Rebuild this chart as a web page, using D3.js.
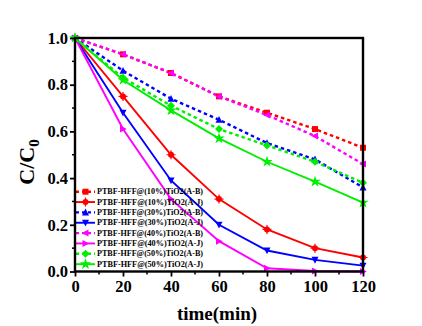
<!DOCTYPE html>
<html><head><meta charset="utf-8">
<script src="https://cdn.jsdelivr.net/npm/d3@7"></script>
<style>body{margin:0;background:#fff}svg{display:block}</style>
</head><body>
<svg id="c" width="422" height="326"></svg>
<script>
const times = [0, 20, 40, 60, 80, 100, 120];
const labels = [
  "PTBF-HFF@(10%)TiO2(A-B)", "PTBF-HFF@(10%)TiO2(A-J)",
  "PTBF-HFF@(30%)TiO2(A-B)", "PTBF-HFF@(30%)TiO2(A-J)",
  "PTBF-HFF@(40%)TiO2(A-B)", "PTBF-HFF@(40%)TiO2(A-J)",
  "PTBF-HFF@(50%)TiO2(A-B)", "PTBF-HFF@(50%)TiO2(A-J)"
];
const s10B = [1.0, 0.93, 0.85, 0.75, 0.68, 0.61, 0.53];
const s10J = [1.0, 0.75, 0.50, 0.31, 0.18, 0.10, 0.06];
const s30B = [1.0, 0.86, 0.74, 0.65, 0.55, 0.48, 0.36];
const s30J = [1.0, 0.68, 0.39, 0.20, 0.09, 0.05, 0.025];
const s40B = [1.0, 0.93, 0.85, 0.75, 0.67, 0.58, 0.46];
const s40J = [1.0, 0.61, 0.31, 0.13, 0.014, 0.002, 0.0];
const s50B = [1.0, 0.83, 0.71, 0.61, 0.54, 0.47, 0.38];
const s50J = [1.0, 0.82, 0.69, 0.57, 0.47, 0.385, 0.295];
const colors = ["#ff0000","#ff0000","#0000ff","#0000ff","#ff00ff","#ff00ff","#00ee00","#00ee00"];
const xTicks = [0, 20, 40, 60, 80, 100, 120];
const yTicks = [0.0, 0.2, 0.4, 0.6, 0.8, 1.0];

const series = [s10B, s10J, s30B, s30J, s40B, s40J, s50B, s50J];
const dashed = [true,false,true,false,true,false,true,false];
const symType = ["square","circle","tri","tridown","left","right","diamond","star"];

const svg = d3.select("#c");
const L = 75, R = 363, T = 38, B = 271.5;
const x = d3.scaleLinear().domain([0,120]).range([L,R]);
const y = d3.scaleLinear().domain([0,1]).range([B,T]);
const font = "'Liberation Serif','Times New Roman',serif";

function sym(g, type, cx, cy, col){
  const s = 3;
  let p;
  if (type==="square") p = `M${cx-s},${cy-s}h${2*s}v${2*s}h${-2*s}Z`;
  else if (type==="circle") { g.append("circle").attr("cx",cx).attr("cy",cy).attr("r",s).attr("fill",col);
    g.append("path").attr("d",`M${cx-s-1.5},${cy}h${2*s+3}M${cx},${cy-s-1.5}v${2*s+3}`).attr("stroke",col).attr("stroke-width",1.2); return; }
  else if (type==="tri") p = `M${cx},${cy-s-0.8}L${cx+s+0.5},${cy+s}L${cx-s-0.5},${cy+s}Z`;
  else if (type==="tridown") p = `M${cx},${cy+s+0.8}L${cx+s+0.5},${cy-s}L${cx-s-0.5},${cy-s}Z`;
  else if (type==="left") p = `M${cx-s-0.8},${cy}L${cx+s},${cy-s-0.5}L${cx+s},${cy+s+0.5}Z`;
  else if (type==="right") p = `M${cx+s+0.8},${cy}L${cx-s},${cy-s-0.5}L${cx-s},${cy+s+0.5}Z`;
  else if (type==="diamond") p = `M${cx},${cy-s-1}L${cx+s+1},${cy}L${cx},${cy+s+1}L${cx-s-1},${cy}Z`;
  else { g.append("path").attr("d", d3.symbol(d3.symbolStar, 40)()).attr("transform",`translate(${cx},${cy})`).attr("fill",col); return; }
  g.append("path").attr("d",p).attr("fill",col);
}

// series
const line = d3.line().x((d,i)=>x(times[i])).y(d=>y(d));
const plot = svg.append("g");
series.forEach((s,k)=>{
  plot.append("path").datum(s).attr("d",line).attr("fill","none")
    .attr("stroke",colors[k]).attr("stroke-width",dashed[k]?2.4:1.9)
    .attr("stroke-dasharray",dashed[k]?"3.5,3":null);
});
series.forEach((s,k)=>{
  s.forEach((v,i)=>{ sym(plot, symType[k], x(times[i]), y(v), colors[k]); });
});

// legend
const lg = svg.append("g");
labels.forEach((lab,k)=>{
  const yy = 191.7 + k*10.35;
  lg.append("line").attr("x1",76).attr("x2",95).attr("y1",yy).attr("y2",yy)
    .attr("stroke",colors[k]).attr("stroke-width",dashed[k]?2.4:1.9)
    .attr("stroke-dasharray",dashed[k]?"3,3":null);
  const g2 = lg.append("g");
  sym(g2, symType[k], 85.5, yy, colors[k]);
  lg.append("text").attr("x",97).attr("y",yy+2.6).text(lab)
    .attr("font-family",font).attr("font-weight","bold").attr("font-size",7.5)
    .attr("textLength",106).attr("lengthAdjust","spacingAndGlyphs");
});

// axes box
svg.append("rect").attr("x",L).attr("y",T).attr("width",R-L).attr("height",B-T)
  .attr("fill","none").attr("stroke","#000").attr("stroke-width",2.4);

const xAxis = d3.axisBottom(x).tickValues(xTicks).tickSize(5).tickPadding(3).tickFormat(d3.format("d"));
const gx = svg.append("g").attr("transform",`translate(0,${B})`).call(xAxis);
const yAxis = d3.axisLeft(y).tickValues(yTicks).tickSize(5).tickPadding(2).tickFormat(d3.format(".1f"));
const gy = svg.append("g").attr("transform",`translate(${L},0)`).call(yAxis);
[gx,gy].forEach(g=>{
  g.select(".domain").remove();
  g.selectAll(".tick line").attr("stroke","#000").attr("stroke-width",1.8);
  g.selectAll("text").attr("font-family",font).attr("font-weight","bold").attr("font-size",16.5).attr("fill","#000");
});
gx.selectAll("text").attr("dy","0.75em");
// minor ticks
const mx = [10,30,50,70,90,110];
svg.append("g").selectAll("line").data(mx).join("line")
  .attr("x1",d=>x(d)).attr("x2",d=>x(d)).attr("y1",B).attr("y2",B+3)
  .attr("stroke","#000").attr("stroke-width",1.5);
const my = [0.1,0.3,0.5,0.7,0.9];
svg.append("g").selectAll("line").data(my).join("line")
  .attr("y1",d=>y(d)).attr("y2",d=>y(d)).attr("x1",L).attr("x2",L-3)
  .attr("stroke","#000").attr("stroke-width",1.5);

// axis titles
svg.append("text").attr("x",217).attr("y",320).attr("text-anchor","middle")
  .attr("font-family",font).attr("font-weight","bold").attr("font-size",19).text("time(min)");
const yt = svg.append("text").attr("transform","translate(34,162) rotate(-90)").attr("text-anchor","middle")
  .attr("font-family",font).attr("font-weight","bold").attr("font-size",22);
yt.append("tspan").text("C/C");
yt.append("tspan").attr("font-size",15).attr("dy",5).text("0");
</script>
</body></html>
